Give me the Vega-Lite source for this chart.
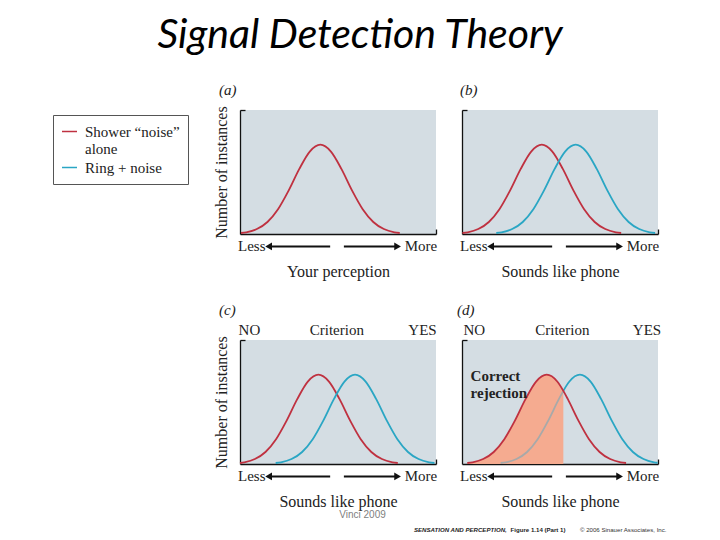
{
  "$schema": "https://vega.github.io/schema/vega-lite/v6.json",
  "padding": {"left": 52, "top": 14, "right": 5, "bottom": 4},
  "background": "white",
  "title": {"text": "Signal Detection Theory", "font": "Lato", "fontSize": 41, "fontStyle": "italic", "fontWeight": "normal", "color": "#000", "anchor": "middle", "frame": "group", "dx": 120, "offset": 26},
  "bounds": "flush",
  "columns": 2,
  "spacing": {"row": 106, "column": 26},
  "datasets": {
    "curves": [
      {"panel":"a","series":"noise","x":0.5,"y":0.008},{"panel":"a","series":"noise","x":3.2,"y":0.014},{"panel":"a","series":"noise","x":8.6,"y":0.040},{"panel":"a","series":"noise","x":14.0,"y":0.097},{"panel":"a","series":"noise","x":19.4,"y":0.200},{"panel":"a","series":"noise","x":24.8,"y":0.350},{"panel":"a","series":"noise","x":30.2,"y":0.523},{"panel":"a","series":"noise","x":35.6,"y":0.665},{"panel":"a","series":"noise","x":41.0,"y":0.720},{"panel":"a","series":"noise","x":46.4,"y":0.665},{"panel":"a","series":"noise","x":51.8,"y":0.523},{"panel":"a","series":"noise","x":57.2,"y":0.350},{"panel":"a","series":"noise","x":62.6,"y":0.200},{"panel":"a","series":"noise","x":68.0,"y":0.097},{"panel":"a","series":"noise","x":73.4,"y":0.040},{"panel":"a","series":"noise","x":78.8,"y":0.014},{"panel":"a","series":"noise","x":81.5,"y":0.008},
      {"panel":"b","series":"noise","x":0.2,"y":0.008},{"panel":"b","series":"noise","x":2.9,"y":0.014},{"panel":"b","series":"noise","x":8.3,"y":0.040},{"panel":"b","series":"noise","x":13.7,"y":0.097},{"panel":"b","series":"noise","x":19.1,"y":0.200},{"panel":"b","series":"noise","x":24.5,"y":0.350},{"panel":"b","series":"noise","x":29.9,"y":0.523},{"panel":"b","series":"noise","x":35.3,"y":0.665},{"panel":"b","series":"noise","x":40.7,"y":0.720},{"panel":"b","series":"noise","x":46.1,"y":0.665},{"panel":"b","series":"noise","x":51.5,"y":0.523},{"panel":"b","series":"noise","x":56.9,"y":0.350},{"panel":"b","series":"noise","x":62.3,"y":0.200},{"panel":"b","series":"noise","x":67.7,"y":0.097},{"panel":"b","series":"noise","x":73.1,"y":0.040},{"panel":"b","series":"noise","x":78.5,"y":0.014},{"panel":"b","series":"noise","x":81.2,"y":0.008},
      {"panel":"b","series":"signal","x":17.5,"y":0.008},{"panel":"b","series":"signal","x":20.2,"y":0.014},{"panel":"b","series":"signal","x":25.6,"y":0.040},{"panel":"b","series":"signal","x":31.0,"y":0.097},{"panel":"b","series":"signal","x":36.4,"y":0.200},{"panel":"b","series":"signal","x":41.8,"y":0.350},{"panel":"b","series":"signal","x":47.2,"y":0.523},{"panel":"b","series":"signal","x":52.6,"y":0.665},{"panel":"b","series":"signal","x":58.0,"y":0.720},{"panel":"b","series":"signal","x":63.4,"y":0.665},{"panel":"b","series":"signal","x":68.8,"y":0.523},{"panel":"b","series":"signal","x":74.2,"y":0.350},{"panel":"b","series":"signal","x":79.6,"y":0.200},{"panel":"b","series":"signal","x":85.0,"y":0.097},{"panel":"b","series":"signal","x":90.4,"y":0.040},{"panel":"b","series":"signal","x":95.8,"y":0.014},{"panel":"b","series":"signal","x":98.5,"y":0.008},
      {"panel":"c","series":"noise","x":0.0,"y":0.008},{"panel":"c","series":"noise","x":2.2,"y":0.014},{"panel":"c","series":"noise","x":7.6,"y":0.040},{"panel":"c","series":"noise","x":13.0,"y":0.097},{"panel":"c","series":"noise","x":18.4,"y":0.200},{"panel":"c","series":"noise","x":23.8,"y":0.350},{"panel":"c","series":"noise","x":29.2,"y":0.523},{"panel":"c","series":"noise","x":34.6,"y":0.665},{"panel":"c","series":"noise","x":40.0,"y":0.720},{"panel":"c","series":"noise","x":45.4,"y":0.665},{"panel":"c","series":"noise","x":50.8,"y":0.523},{"panel":"c","series":"noise","x":56.2,"y":0.350},{"panel":"c","series":"noise","x":61.6,"y":0.200},{"panel":"c","series":"noise","x":67.0,"y":0.097},{"panel":"c","series":"noise","x":72.4,"y":0.040},{"panel":"c","series":"noise","x":77.8,"y":0.014},{"panel":"c","series":"noise","x":80.5,"y":0.008},
      {"panel":"c","series":"signal","x":18.2,"y":0.008},{"panel":"c","series":"signal","x":20.9,"y":0.014},{"panel":"c","series":"signal","x":26.3,"y":0.040},{"panel":"c","series":"signal","x":31.7,"y":0.097},{"panel":"c","series":"signal","x":37.1,"y":0.200},{"panel":"c","series":"signal","x":42.5,"y":0.350},{"panel":"c","series":"signal","x":47.9,"y":0.523},{"panel":"c","series":"signal","x":53.3,"y":0.665},{"panel":"c","series":"signal","x":58.7,"y":0.720},{"panel":"c","series":"signal","x":64.1,"y":0.665},{"panel":"c","series":"signal","x":69.5,"y":0.523},{"panel":"c","series":"signal","x":74.9,"y":0.350},{"panel":"c","series":"signal","x":80.3,"y":0.200},{"panel":"c","series":"signal","x":85.7,"y":0.097},{"panel":"c","series":"signal","x":91.1,"y":0.040},{"panel":"c","series":"signal","x":96.5,"y":0.014},{"panel":"c","series":"signal","x":99.2,"y":0.008},
      {"panel":"d","series":"noise","x":2.7,"y":0.008},{"panel":"d","series":"noise","x":5.4,"y":0.014},{"panel":"d","series":"noise","x":10.8,"y":0.040},{"panel":"d","series":"noise","x":16.2,"y":0.097},{"panel":"d","series":"noise","x":21.6,"y":0.200},{"panel":"d","series":"noise","x":27.0,"y":0.350},{"panel":"d","series":"noise","x":32.4,"y":0.523},{"panel":"d","series":"noise","x":37.8,"y":0.665},{"panel":"d","series":"noise","x":43.2,"y":0.720},{"panel":"d","series":"noise","x":48.6,"y":0.665},{"panel":"d","series":"noise","x":51.7,"y":0.590},{"panel":"d","series":"noise","x":54.0,"y":0.523},{"panel":"d","series":"noise","x":59.4,"y":0.350},{"panel":"d","series":"noise","x":64.8,"y":0.200},{"panel":"d","series":"noise","x":70.2,"y":0.097},{"panel":"d","series":"noise","x":75.6,"y":0.040},{"panel":"d","series":"noise","x":81.0,"y":0.014},{"panel":"d","series":"noise","x":83.7,"y":0.008},
      {"panel":"d","series":"signal","x":19.7,"y":0.008},{"panel":"d","series":"signal","x":22.4,"y":0.014},{"panel":"d","series":"signal","x":27.8,"y":0.040},{"panel":"d","series":"signal","x":33.2,"y":0.097},{"panel":"d","series":"signal","x":38.6,"y":0.200},{"panel":"d","series":"signal","x":44.0,"y":0.350},{"panel":"d","series":"signal","x":49.4,"y":0.523},{"panel":"d","series":"signal","x":51.7,"y":0.590},{"panel":"d","series":"signal","x":54.8,"y":0.665},{"panel":"d","series":"signal","x":60.2,"y":0.720},{"panel":"d","series":"signal","x":65.6,"y":0.665},{"panel":"d","series":"signal","x":71.0,"y":0.523},{"panel":"d","series":"signal","x":76.4,"y":0.350},{"panel":"d","series":"signal","x":81.8,"y":0.200},{"panel":"d","series":"signal","x":87.2,"y":0.097},{"panel":"d","series":"signal","x":92.6,"y":0.040},{"panel":"d","series":"signal","x":98.0,"y":0.014},{"panel":"d","series":"signal","x":99.8,"y":0.010}
    ],
    "arrows": [{"x": 15, "x2": 46, "y": -0.1}, {"x": 53, "x2": 80, "y": -0.1}],
    "heads": [{"x": 14.6, "y": -0.1, "shape": "triangle-left"}, {"x": 80.4, "y": -0.1, "shape": "triangle-right"}],
    "ends": [{"label": "Less", "x": 6.0, "y": -0.1}, {"label": "More", "x": 92.3, "y": -0.1}],
    "criteria": [{"panel": "c", "x": 49.4}, {"panel": "d", "x": 51.7}],
    "toplabels": [
      {"panel": "c", "label": "NO", "x": 4.8, "y": 1.08}, {"panel": "c", "label": "Criterion", "x": 49.4, "y": 1.08}, {"panel": "c", "label": "YES", "x": 93.1, "y": 1.08},
      {"panel": "d", "label": "NO", "x": 6.3, "y": 1.08}, {"panel": "d", "label": "Criterion", "x": 51.2, "y": 1.08}, {"panel": "d", "label": "YES", "x": 94.4, "y": 1.08}
    ],
    "notes": [
      {"kind": "credit", "label": "Vinci 2009", "x": 62.5, "y": -0.41},
      {"kind": "region", "label": "Correct\nrejection", "x": 4.4, "y": 0.71},
      {"kind": "footer1", "label": "SENSATION AND PERCEPTION,", "x": -24.5, "y": -0.53},
      {"kind": "footer2", "label": "Figure 1.14 (Part 1)", "x": 24.8, "y": -0.53},
      {"kind": "footer3", "label": "© 2006 Sinauer Associates, Inc.", "x": 60.2, "y": -0.53}
    ]
  },
  "concat": [
    {
      "width": 196, "height": 124,
      "title": {"text": "(a)", "font": "Liberation Serif", "fontStyle": "italic", "fontSize": 15, "fontWeight": "normal", "anchor": "start", "frame": "group", "dx": -21, "offset": 8, "color": "#222"},
      "encoding": {
        "x": {"field": "x", "type": "quantitative", "scale": {"domain": [0, 100], "nice": false, "zero": false}, "axis": {"title": "Your perception", "values": [100]}},
        "y": {"field": "y", "type": "quantitative", "scale": {"domain": [0, 1], "nice": false}, "axis": {"title": "Number of instances", "values": [1]}}
      },
      "layer": [
        {"data": {"name": "curves"}, "transform": [{"filter": "datum.panel == 'a'"}], "mark": {"type": "line", "interpolate": "monotone", "strokeWidth": 1.8},
         "encoding": {"color": {"field": "series", "type": "nominal", "scale": {"domain": ["noise", "signal"], "range": ["#bf3140", "#2aa6c4"]}, "legend": {"orient": "none", "legendX": -187, "legendY": 5, "title": null, "symbolType": "stroke", "symbolStrokeWidth": 1.5, "symbolSize": 225, "labelFont": "Liberation Serif", "labelFontSize": 15, "labelColor": "#222", "fillColor": "white", "strokeColor": "#555", "padding": 8, "rowPadding": 2, "labelOffset": 7, "labelLimit": 200, "labelExpr": "datum.value == 'noise' ? ['Shower “noise”', 'alone'] : 'Ring + noise'"}}}},
        {"data": {"name": "arrows"}, "mark": {"type": "rule", "strokeWidth": 2, "color": "#111"}, "encoding": {"x2": {"field": "x2"}}},
        {"data": {"name": "heads"}, "mark": {"type": "point", "filled": true, "size": 60, "color": "#111", "opacity": 1}, "encoding": {"shape": {"field": "shape", "type": "nominal", "scale": null}}},
        {"data": {"name": "ends"}, "mark": {"type": "text", "baseline": "middle", "align": "center"}, "encoding": {"text": {"field": "label"}}}
      ]
    },
    {
      "width": 196, "height": 124,
      "title": {"text": "(b)", "font": "Liberation Serif", "fontStyle": "italic", "fontSize": 15, "fontWeight": "normal", "anchor": "start", "frame": "group", "dx": -2, "offset": 11, "color": "#222"},
      "encoding": {
        "x": {"field": "x", "type": "quantitative", "scale": {"domain": [0, 100], "nice": false, "zero": false}, "axis": {"title": "Sounds like phone", "values": [100]}},
        "y": {"field": "y", "type": "quantitative", "scale": {"domain": [0, 1], "nice": false}, "axis": {"title": null, "values": [1]}}
      },
      "layer": [
        {"data": {"name": "curves"}, "transform": [{"filter": "datum.panel == 'b'"}], "mark": {"type": "line", "interpolate": "monotone", "strokeWidth": 1.8},
         "encoding": {"color": {"field": "series", "type": "nominal", "scale": {"domain": ["noise", "signal"], "range": ["#bf3140", "#2aa6c4"]}, "legend": {"orient": "none", "legendX": -187, "legendY": 5, "title": null, "symbolType": "stroke", "symbolStrokeWidth": 1.5, "symbolSize": 225, "labelFont": "Liberation Serif", "labelFontSize": 15, "labelColor": "#222", "fillColor": "white", "strokeColor": "#555", "padding": 8, "rowPadding": 2, "labelOffset": 7, "labelLimit": 200, "labelExpr": "datum.value == 'noise' ? ['Shower “noise”', 'alone'] : 'Ring + noise'"}}}},
        {"data": {"name": "arrows"}, "mark": {"type": "rule", "strokeWidth": 2, "color": "#111"}, "encoding": {"x2": {"field": "x2"}}},
        {"data": {"name": "heads"}, "mark": {"type": "point", "filled": true, "size": 60, "color": "#111", "opacity": 1}, "encoding": {"shape": {"field": "shape", "type": "nominal", "scale": null}}},
        {"data": {"name": "ends"}, "mark": {"type": "text", "baseline": "middle", "align": "center"}, "encoding": {"text": {"field": "label"}}}
      ]
    },
    {
      "width": 196, "height": 124,
      "title": {"text": "(c)", "font": "Liberation Serif", "fontStyle": "italic", "fontSize": 15, "fontWeight": "normal", "anchor": "start", "frame": "group", "dx": -21, "offset": 5, "color": "#222"},
      "encoding": {
        "x": {"field": "x", "type": "quantitative", "scale": {"domain": [0, 100], "nice": false, "zero": false}, "axis": {"title": "Sounds like phone", "values": [100]}},
        "y": {"field": "y", "type": "quantitative", "scale": {"domain": [0, 1], "nice": false}, "axis": {"title": "Number of instances", "values": [1]}}
      },
      "layer": [
        {"data": {"name": "curves"}, "transform": [{"filter": "datum.panel == 'c'"}], "mark": {"type": "line", "interpolate": "monotone", "strokeWidth": 1.8},
         "encoding": {"color": {"field": "series", "type": "nominal", "scale": {"domain": ["noise", "signal"], "range": ["#bf3140", "#2aa6c4"]}, "legend": {"orient": "none", "legendX": -187, "legendY": 5, "title": null, "symbolType": "stroke", "symbolStrokeWidth": 1.5, "symbolSize": 225, "labelFont": "Liberation Serif", "labelFontSize": 15, "labelColor": "#222", "fillColor": "white", "strokeColor": "#555", "padding": 8, "rowPadding": 2, "labelOffset": 7, "labelLimit": 200, "labelExpr": "datum.value == 'noise' ? ['Shower “noise”', 'alone'] : 'Ring + noise'"}}}},
        {"data": {"name": "criteria"}, "transform": [{"filter": "datum.panel == 'c'"}], "mark": {"type": "rule", "strokeWidth": 2, "strokeDash": [4, 3], "color": "#111"}, "encoding": {"y": {"datum": 0}, "y2": {"datum": 1}}},
        {"data": {"name": "toplabels"}, "transform": [{"filter": "datum.panel == 'c'"}], "mark": {"type": "text", "baseline": "middle", "align": "center"}, "encoding": {"text": {"field": "label"}}},
        {"data": {"name": "arrows"}, "mark": {"type": "rule", "strokeWidth": 2, "color": "#111"}, "encoding": {"x2": {"field": "x2"}}},
        {"data": {"name": "heads"}, "mark": {"type": "point", "filled": true, "size": 60, "color": "#111", "opacity": 1}, "encoding": {"shape": {"field": "shape", "type": "nominal", "scale": null}}},
        {"data": {"name": "ends"}, "mark": {"type": "text", "baseline": "middle", "align": "center"}, "encoding": {"text": {"field": "label"}}},
        {"data": {"name": "notes"}, "transform": [{"filter": "datum.kind == 'credit'"}], "mark": {"type": "text", "baseline": "middle", "align": "center", "font": "Liberation Sans", "fontSize": 10, "color": "#808080"}, "encoding": {"text": {"field": "label"}}}
      ]
    },
    {
      "width": 196, "height": 124,
      "title": {"text": "(d)", "font": "Liberation Serif", "fontStyle": "italic", "fontSize": 15, "fontWeight": "normal", "anchor": "start", "frame": "group", "dx": -5, "offset": 5, "color": "#222"},
      "encoding": {
        "x": {"field": "x", "type": "quantitative", "scale": {"domain": [0, 100], "nice": false, "zero": false}, "axis": {"title": "Sounds like phone", "values": [100]}},
        "y": {"field": "y", "type": "quantitative", "scale": {"domain": [0, 1], "nice": false}, "axis": {"title": null, "values": [1]}}
      },
      "layer": [
        {"data": {"name": "curves"}, "transform": [{"filter": "datum.panel == 'd' && datum.series == 'signal'"}], "mark": {"type": "line", "interpolate": "monotone", "strokeWidth": 1.8},
         "encoding": {"color": {"field": "series", "type": "nominal", "scale": {"domain": ["noise", "signal"], "range": ["#bf3140", "#2aa6c4"]}, "legend": {"orient": "none", "legendX": -187, "legendY": 5, "title": null, "symbolType": "stroke", "symbolStrokeWidth": 1.5, "symbolSize": 225, "labelFont": "Liberation Serif", "labelFontSize": 15, "labelColor": "#222", "fillColor": "white", "strokeColor": "#555", "padding": 8, "rowPadding": 2, "labelOffset": 7, "labelLimit": 200, "labelExpr": "datum.value == 'noise' ? ['Shower “noise”', 'alone'] : 'Ring + noise'"}}}},
        {"data": {"name": "curves"}, "transform": [{"filter": "datum.panel == 'd' && datum.series == 'noise' && datum.x <= 51.7"}], "mark": {"type": "area", "interpolate": "monotone", "color": "#f5ab90", "opacity": 1}},
        {"data": {"name": "curves"}, "transform": [{"filter": "datum.panel == 'd' && datum.series == 'signal' && datum.x <= 51.7"}], "mark": {"type": "line", "interpolate": "monotone", "strokeWidth": 1.8, "color": "#a8a9a9"}},
        {"data": {"name": "curves"}, "transform": [{"filter": "datum.panel == 'd' && datum.series == 'noise'"}], "mark": {"type": "line", "interpolate": "monotone", "strokeWidth": 1.8},
         "encoding": {"color": {"field": "series", "type": "nominal", "scale": {"domain": ["noise", "signal"], "range": ["#bf3140", "#2aa6c4"]}, "legend": {"orient": "none", "legendX": -187, "legendY": 5, "title": null, "symbolType": "stroke", "symbolStrokeWidth": 1.5, "symbolSize": 225, "labelFont": "Liberation Serif", "labelFontSize": 15, "labelColor": "#222", "fillColor": "white", "strokeColor": "#555", "padding": 8, "rowPadding": 2, "labelOffset": 7, "labelLimit": 200, "labelExpr": "datum.value == 'noise' ? ['Shower “noise”', 'alone'] : 'Ring + noise'"}}}},
        {"data": {"name": "criteria"}, "transform": [{"filter": "datum.panel == 'd'"}], "mark": {"type": "rule", "strokeWidth": 2, "strokeDash": [4, 3], "color": "#111"}, "encoding": {"y": {"datum": 0}, "y2": {"datum": 1}}},
        {"data": {"name": "toplabels"}, "transform": [{"filter": "datum.panel == 'd'"}], "mark": {"type": "text", "baseline": "middle", "align": "center"}, "encoding": {"text": {"field": "label"}}},
        {"data": {"name": "notes"}, "transform": [{"filter": "datum.kind == 'region'"}], "mark": {"type": "text", "baseline": "middle", "align": "left", "fontWeight": "bold", "lineBreak": "\n", "lineHeight": 17}, "encoding": {"text": {"field": "label"}}},
        {"data": {"name": "arrows"}, "mark": {"type": "rule", "strokeWidth": 2, "color": "#111"}, "encoding": {"x2": {"field": "x2"}}},
        {"data": {"name": "heads"}, "mark": {"type": "point", "filled": true, "size": 60, "color": "#111", "opacity": 1}, "encoding": {"shape": {"field": "shape", "type": "nominal", "scale": null}}},
        {"data": {"name": "ends"}, "mark": {"type": "text", "baseline": "middle", "align": "center"}, "encoding": {"text": {"field": "label"}}},
        {"data": {"name": "notes"}, "transform": [{"filter": "datum.kind == 'footer1'"}], "mark": {"type": "text", "baseline": "middle", "align": "left", "font": "Liberation Sans", "fontSize": 6.1, "fontWeight": "bold", "fontStyle": "italic", "color": "#222"}, "encoding": {"text": {"field": "label"}}},
        {"data": {"name": "notes"}, "transform": [{"filter": "datum.kind == 'footer2'"}], "mark": {"type": "text", "baseline": "middle", "align": "left", "font": "Liberation Sans", "fontSize": 6.1, "fontWeight": "bold", "color": "#222"}, "encoding": {"text": {"field": "label"}}},
        {"data": {"name": "notes"}, "transform": [{"filter": "datum.kind == 'footer3'"}], "mark": {"type": "text", "baseline": "middle", "align": "left", "font": "Liberation Sans", "fontSize": 6.1, "color": "#333"}, "encoding": {"text": {"field": "label"}}}
      ]
    }
  ],
  "config": {
    "view": {"fill": "#d4dde3", "stroke": null},
    "axis": {"domainColor": "#111", "domainWidth": 1.3, "labels": false, "grid": false, "tickColor": "#111", "tickWidth": 1.3, "tickSize": -5, "titleFont": "Liberation Serif", "titleFontSize": 16, "titleFontWeight": "normal", "titleColor": "#222"},
    "axisX": {"titlePadding": 29},
    "axisY": {"titlePadding": 10},
    "text": {"font": "Liberation Serif", "fontSize": 15, "color": "#222"}
  }
}
